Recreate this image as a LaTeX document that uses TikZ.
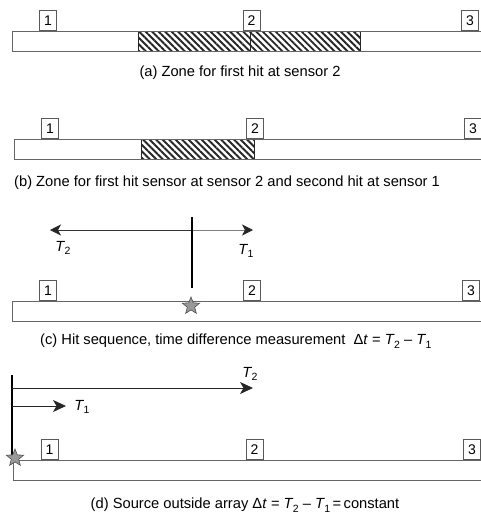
\documentclass[tikz,border=0pt]{standalone}
\usepackage{fontspec}
\setmainfont{Liberation Sans}
\usetikzlibrary{shapes.geometric,patterns.meta,arrows.meta}
\newcommand\Tsub[1]{\textit{T}\kern-0.6pt\raisebox{-0.45ex}{\fontsize{10.5}{11}\selectfont #1}}
\tikzset{
  sensor/.style={draw=black!65, fill=white, line width=0.7pt, minimum width=17pt, minimum height=20pt, inner sep=0pt, anchor=south, font=\fontsize{14}{16}\selectfont},
  barline/.style={draw=black!60, line width=0.8pt},
  hatch/.style={pattern={Lines[angle=-45,distance=4.6pt,line width=1.9pt]}, pattern color=black!85, draw=black!85, line width=0.8pt},
  caption/.style={font=\fontsize{14.7}{16}\selectfont, inner sep=0pt},
  src/.style={star, star points=5, star point ratio=2.3, minimum size=18pt, inner sep=0pt, fill=black!40, draw=black!70, line width=0.6pt},
  tipc/.style={-{Stealth[length=11pt,width=11pt,inset=3pt,color=black!85]}},
  tipd/.style={-{Stealth[length=13pt,width=12pt,inset=3.5pt,color=black!85]}},
  tlabel/.style={font=\fontsize{14.7}{16}\selectfont, inner sep=0pt}
}
\begin{document}
\begin{tikzpicture}[x=1pt,y=-1pt]
\useasboundingbox (0,0) rectangle (481,517);
% ---------- (a)
\draw[hatch] (138,31) rectangle (250,51);
\draw[hatch] (250,31) rectangle (360,51);
\draw[barline] (482,31) -- (12,31) -- (12,51) -- (482,51);
\node[sensor] (a1) at (48,31) {1};
\node[sensor] (a2) at (251.5,31) {2};
\node[sensor] (a3) at (470,31) {3};
\node[caption] (capa) at (240,73) {(a) Zone for first hit at sensor 2};
% ---------- (b)
\draw[hatch] (141,139) rectangle (254,159);
\draw[barline] (482,139) -- (14,139) -- (14,159) -- (482,159);
\node[sensor] (b1) at (50,139) {1};
\node[sensor] (b2) at (255,139) {2};
\node[sensor] (b3) at (473,139) {3};
\node[caption, anchor=west] (capb) at (14,183) {(b) Zone for first hit sensor at sensor 2 and second hit at sensor 1};
% ---------- (c)
\draw[barline] (482,301) -- (12,301) -- (12,321) -- (482,321);
\node[sensor] (c1) at (48,301) {1};
\node[sensor] (c2) at (252,301) {2};
\node[sensor] (c3) at (471,301) {3};
\node[src] (cs) at (191,306) {};
\coordinate (ctop) at (192,217);
\coordinate (cbot) at (192,288);
\coordinate (cmid) at (192,230);
\coordinate (cleft) at (50,230);
\coordinate (cright) at (253,230);
\draw[tipc, line width=0.9pt, draw=black!80] (cmid) -- (cleft);
\draw[tipc, line width=0.7pt, draw=black!50] (cmid) -- (cright);
\draw[line width=2pt] (ctop) -- (cbot);
\node[tlabel] (cT2) at (63,248) {\Tsub{2}};
\node[tlabel] (cT1) at (246,251) {\Tsub{1}};
\node[caption, anchor=west] (capc) at (40,341) {(c) Hit sequence, time difference measurement\ \ Δ\textit{t} = \Tsub{2} – \Tsub{1}};
% ---------- (d)
\draw[barline] (482,460) -- (13,460) -- (13,480) -- (482,480);
\node[sensor] (d1) at (49.5,460) {1};
\node[sensor] (d2) at (254.5,460) {2};
\node[sensor] (d3) at (472,460) {3};
\coordinate (dtop) at (12,375);
\coordinate (dbot) at (12,455);
\coordinate (d2s) at (12,388);
\coordinate (d2e) at (253,388);
\coordinate (d1s) at (12,406);
\coordinate (d1e) at (66,406);
\draw[line width=1.1pt] (dtop) -- (dbot);
\draw[tipd, line width=0.8pt, draw=black!85] (d2s) -- (d2e);
\draw[tipd, line width=0.8pt, draw=black!85] (d1s) -- (d1e);
\node[src] (ds) at (15,458) {};
\node[tlabel] (dT2) at (250,374) {\Tsub{2}};
\node[tlabel] (dT1) at (82,407) {\Tsub{1}};
\node[caption] (capd) at (245,505) {(d) Source outside array Δ\textit{t} = \Tsub{2} – \Tsub{1}\,=\,constant};
\end{tikzpicture}
\end{document}
